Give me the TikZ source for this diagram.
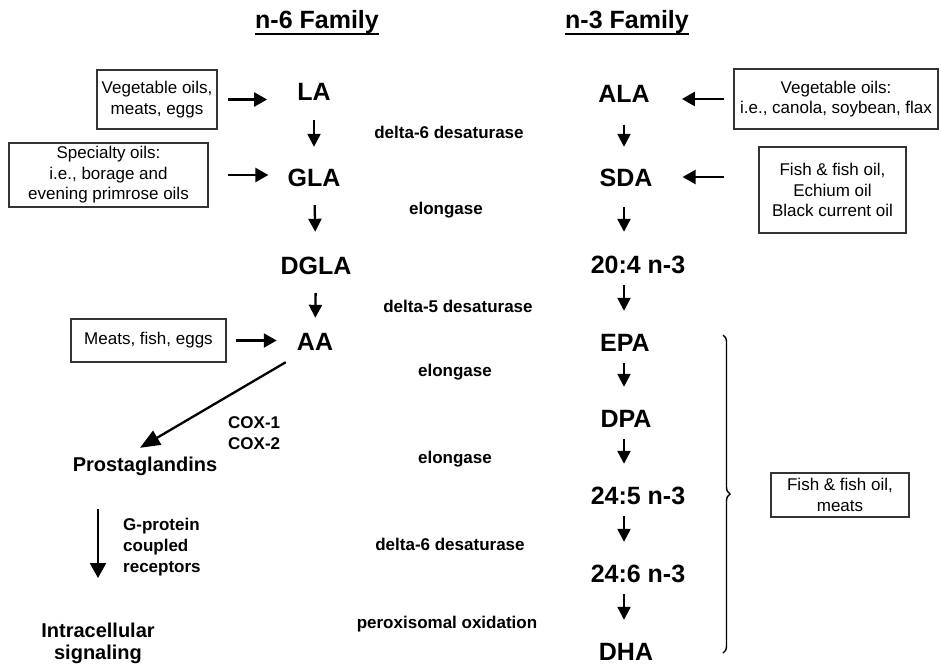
\documentclass[tikz,border=0pt]{standalone}
\usepackage{fontspec}
\setmainfont{Liberation Sans}
\usetikzlibrary{arrows.meta,decorations.pathreplacing}

\begin{document}
\begin{tikzpicture}[x=1pt,y=-1pt,
    family/.style={font=\fontsize{25}{30}\selectfont\bfseries,inner sep=0pt,text height=13pt,text depth=6pt},
    acid/.style={font=\fontsize{25}{30}\selectfont\bfseries,inner sep=0pt,text height=18pt,text depth=0pt},
    enzyme/.style={font=\fontsize{17}{20}\selectfont\bfseries,inner sep=0pt,text height=12pt,text depth=4pt},
    signal/.style={font=\fontsize{20}{22}\selectfont\bfseries,inner sep=0pt,align=center},
    note/.style={font=\fontsize{17}{21}\selectfont\bfseries,inner sep=0pt,align=left},
    source/.style={draw=black!80,line width=1.2pt,font=\fontsize{17}{20.5}\selectfont,align=center,inner sep=0pt},
    conv/.style={line width=2.3pt,-{Triangle[length=13pt,width=13pt]},shorten <=12pt,shorten >=22pt},
    feed/.style={line width=2.3pt,-{Triangle[length=13pt,width=14pt]}},
    ]
    \useasboundingbox (0,0) rectangle (941,664);

    % headings
    \node[family] (n6) at (317,24.5) {n-6 Family};
    \node[family] (n3) at (627,24.5) {n-3 Family};
    \draw[line width=2pt] (n6.south west) -- (n6.south east);
    \draw[line width=2pt] (n3.south west) -- (n3.south east);

    % n-6 pathway
    \node[acid] (LA) at (314,91) {LA};
    \node[acid] (GLA) at (314,177) {GLA};
    \node[acid] (DGLA) at (316,265) {DGLA};
    \node[acid] (AA) at (315,341) {AA};
    \draw[conv,shorten <=20pt,shorten >=21pt] (LA) -- (GLA);
    \draw[conv,shorten <=19pt,shorten >=24pt] (GLA) -- (DGLA);
    \draw[conv,shorten <=19pt,shorten >=14pt] (DGLA) -- (AA);

    % n-3 pathway
    \node[acid] (ALA) at (624,93.5) {ALA};
    \node[acid] (SDA) at (626,177) {SDA};
    \node[acid] (ETA) at (638,264) {20:4 n-3};
    \node[acid] (EPA) at (625,342) {EPA};
    \node[acid] (DPA) at (626,418) {DPA};
    \node[acid] (TPA) at (638,495) {24:5 n-3};
    \node[acid] (THA) at (638,573) {24:6 n-3};
    \node[acid] (DHA) at (626,651) {DHA};
    \draw[conv,shorten <=22pt,shorten >=21pt] (ALA.south) -- (SDA.north -| ALA);
    \draw[conv,shorten <=21pt,shorten >=23pt] (SDA.south -| ALA) -- (ETA.north -| ALA);
    \draw[conv] (ETA.south -| ALA) -- (EPA.north -| ALA);
    \draw[conv] (EPA.south -| ALA) -- (DPA.north -| ALA);
    \draw[conv] (DPA.south -| ALA) -- (TPA.north -| ALA);
    \draw[conv] (TPA.south -| ALA) -- (THA.north -| ALA);
    \draw[conv] (THA.south -| ALA) -- (DHA.north -| ALA);

    % enzymes
    \node[enzyme] (d6a) at (449,134) {delta-6 desaturase};
    \node[enzyme] (ela) at (446,210) {elongase};
    \node[enzyme] (d5) at (458,308) {delta-5 desaturase};
    \node[enzyme] (elb) at (455,372) {elongase};
    \node[enzyme] (elc) at (455,459) {elongase};
    \node[enzyme] (d6b) at (450,546) {delta-6 desaturase};
    \node[enzyme] (pox) at (447,624) {peroxisomal oxidation};

    % dietary sources
    \node[source,minimum width=120pt,minimum height=59pt] (veg6) at (157,99.5) {Vegetable oils,\\meats, eggs};
    \node[source,minimum width=199pt,minimum height=64pt] (spec) at (108.5,175) {Specialty oils:\\i.e., borage and\\evening primrose oils};
    \node[source,minimum width=155pt,minimum height=43pt] (meat) at (148.5,340.5) {Meats, fish, eggs};
    \node[source,minimum width=204pt,minimum height=60pt] (veg3) at (836,99) {Vegetable oils:\\i.e., canola, soybean, flax};
    \node[source,minimum width=147pt,minimum height=86pt] (fish) at (832.5,190) {Fish \& fish oil,\\Echium oil\\Black current oil};
    \node[source,minimum width=138pt,minimum height=44pt] (fishm) at (840,495) {Fish \& fish oil,\\meats};
    \draw[feed,shorten <=10pt,shorten >=30pt] (veg6.east) -- (veg6.east -| LA.west);
    \draw[feed,shorten <=19pt,shorten >=19pt] (spec.east) -- (spec.east -| GLA.west);
    \draw[feed,shorten <=9pt,shorten >=20pt] (meat.east) -- (meat.east -| AA.west);
    \draw[feed,shorten <=9pt,shorten >=32pt] (veg3.west) -- (veg3.west -| ALA.east);
    \draw[feed,shorten <=34pt,shorten >=30pt] (fish.west |- SDA) -- (SDA);
    \draw[line width=1.4pt,decorate,decoration={brace,amplitude=7pt}] (723,335) -- (723,653);

    % eicosanoid branch
    \node[signal,text height=14pt,text depth=4pt] (pg) at (145,466) {Prostaglandins};
    \node[note,anchor=north west] (cox) at (228,416) {COX-1\\COX-2};
    \node[signal,anchor=north] (isig) at (98,623) {Intracellular\\signaling};
    \node[note,anchor=north west] (gpcr) at (123,518) {G-protein\\coupled\\receptors};
    \draw[line width=2.3pt,-{Triangle[length=20pt,width=16pt]}] ([shift={(-11,12)}]AA.south west) -- ([shift={(-5,-9)}]pg.north);
    \draw[line width=2pt,-{Triangle[length=15pt,width=16pt]},shorten <=34pt,shorten >=45pt] (pg.south -| isig.north) -- (isig.north);

\end{tikzpicture}
\end{document}
